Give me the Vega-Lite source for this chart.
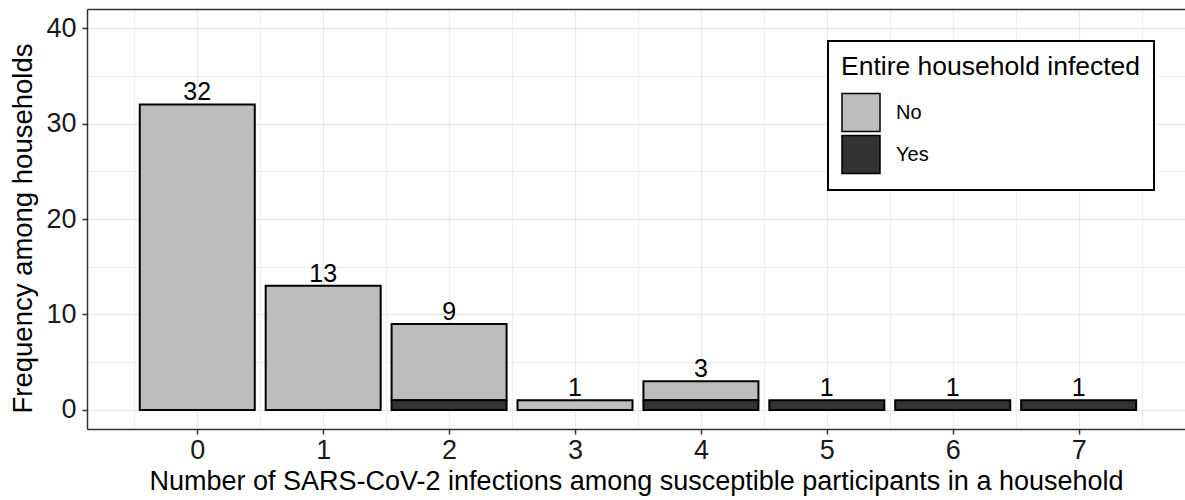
{
  "$schema": "https://vega.github.io/schema/vega-lite/v6.json",
  "autosize": {"type": "none"},
  "padding": {"left": 87, "top": 9, "right": 0, "bottom": 71},
  "width": 1098,
  "height": 420,
  "config": {
    "font": "Liberation Sans",
    "view": {"stroke": null},
    "axis": {"labelFont": "Liberation Sans", "titleFont": "Liberation Sans", "titleFontWeight": "normal", "labelColor": "#1a1a1a", "titleColor": "#000000", "domain": true, "domainColor": "#333333", "domainWidth": 1.5, "tickColor": "#333333", "tickWidth": 1.5, "tickSize": 5, "gridColor": "#ebebeb"}
  },
  "data": {
    "values": [
      {"n": 0, "infected": "No", "count": 32},
      {"n": 1, "infected": "No", "count": 13},
      {"n": 2, "infected": "No", "count": 8},
      {"n": 2, "infected": "Yes", "count": 1},
      {"n": 3, "infected": "No", "count": 1},
      {"n": 4, "infected": "No", "count": 2},
      {"n": 4, "infected": "Yes", "count": 1},
      {"n": 5, "infected": "Yes", "count": 1},
      {"n": 6, "infected": "Yes", "count": 1},
      {"n": 7, "infected": "Yes", "count": 1}
    ]
  },
  "resolve": {"axis": {"x": "independent"}},
  "layer": [
    {
      "transform": [{"aggregate": [{"op": "sum", "field": "count", "as": "total"}], "groupby": ["n"]}],
      "mark": {"type": "text", "baseline": "alphabetic", "dy": -4, "fontSize": 25, "font": "Liberation Sans", "color": "#000000"},
      "encoding": {
        "x": {
          "field": "n", "type": "quantitative",
          "scale": {"domain": [-0.836, 7.805], "nice": false, "zero": false},
          "axis": {
            "orient": "top", "values": [-0.5, 0.5, 1.5, 2.5, 3.5, 4.5, 5.5, 6.5, 7.5],
            "labels": false, "ticks": false, "domain": true, "title": null,
            "grid": true, "gridWidth": 0.8, "gridColor": "#ebebeb"
          }
        },
        "y": {"field": "total", "type": "quantitative"},
        "text": {"field": "total", "type": "quantitative"}
      }
    },
    {
      "mark": {"type": "bar", "width": 115, "stroke": "#000000", "strokeWidth": 2, "opacity": 1},
      "encoding": {
        "x": {
          "field": "n", "type": "quantitative",
          "scale": {"domain": [-0.836, 7.805], "nice": false, "zero": false},
          "axis": {
            "orient": "bottom",
            "values": [0, 1, 2, 3, 4, 5, 6, 7],
            "format": "d",
            "title": "Number of SARS-CoV-2 infections among susceptible participants in a household",
            "titleFontSize": 27, "labelFontSize": 27, "labelPadding": 3, "titlePadding": 5,
            "labelOverlap": false,
            "grid": true, "gridWidth": 1.3
          }
        },
        "y": {
          "field": "count", "type": "quantitative", "stack": "zero",
          "scale": {"domain": [-2, 42], "nice": false, "zero": false},
          "axis": {
            "values": [0, 5, 10, 15, 20, 25, 30, 35, 40],
            "format": "d",
            "title": "Frequency among households",
            "titleFontSize": 27.5, "labelFontSize": 27, "labelPadding": 6, "titlePadding": 8,
            "titleY": 219,
            "labelOverlap": false,
            "labelExpr": "datum.value % 10 === 0 ? datum.label : ''",
            "tickOpacity": {"condition": {"test": "datum.value % 10 !== 0", "value": 0}, "value": 1},
            "gridWidth": {"condition": {"test": "datum.value % 10 !== 0", "value": 0.8}, "value": 1.3}
          }
        },
        "color": {
          "field": "infected", "type": "nominal",
          "scale": {"domain": ["No", "Yes"], "range": ["#bdbdbd", "#333333"]},
          "legend": {
            "title": "Entire household infected",
            "orient": "none", "legendX": 741, "legendY": 32,
            "fillColor": "#ffffff", "strokeColor": "#000000",
            "padding": 13,
            "titleFont": "Liberation Sans", "titleFontSize": 26.5, "titleFontWeight": "normal", "titleColor": "#000000", "titlePadding": 12, "titleLimit": 500,
            "labelFont": "Liberation Sans", "labelFontSize": 20, "labelColor": "#000000", "labelOffset": 15,
            "symbolType": "square", "symbolSize": 1444, "symbolStrokeColor": "#000000", "symbolStrokeWidth": 1.5, "symbolOpacity": 1,
            "rowPadding": -3,
            "encode": {"legend": {"update": {"strokeWidth": {"value": 2}}}}
          }
        },
        "order": {"field": "infected", "sort": "descending"}
      }
    }
  ]
}
